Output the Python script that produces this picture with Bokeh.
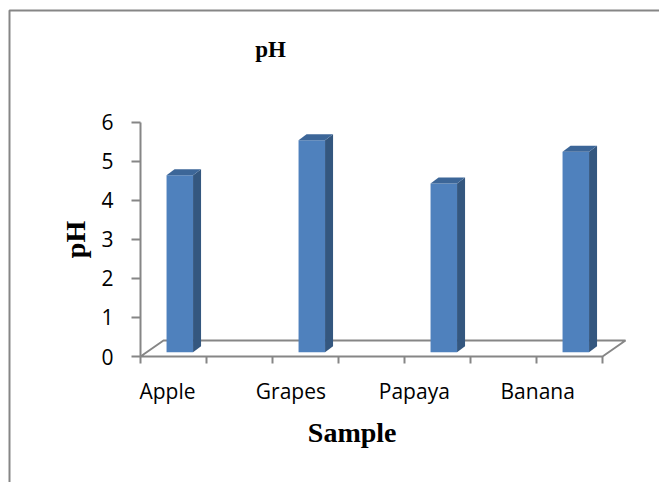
from bokeh.plotting import figure
from bokeh.models import ColumnDataSource, Range1d, FixedTicker
from bokeh.core.properties import value
from bokeh.embed import file_html
from bokeh.resources import INLINE

# ---- data ----
categories = ["Apple", "Grapes", "Papaya", "Banana"]
ph_values = [4.53, 5.43, 4.32, 5.13]
y_ticks = [0, 1, 2, 3, 4, 5, 6]
chart_title = "pH"
x_title = "Sample"
y_title = "pH"

# ---- pseudo-3D geometry (in data units) ----
PX_X = 132.0          # pixels per category step
PX_Y = 39.05          # pixels per pH unit
HALF_W = 13.25 / PX_X        # half width of a column's front face
SIDE_DX = 8 / PX_X           # column depth, horizontal
SIDE_DY = 6 / PX_Y           # column depth, vertical
BASE = 4.3 / PX_Y            # columns stand mid-way back on the floor
FLOOR_X0 = -39.3 / PX_X      # front-left corner of floor (value axis position)
FLOOR_X1 = FLOOR_X0 + 3.5    # front-right corner of floor
FLOOR_DX = 23 / PX_X
FLOOR_DY = 16 / PX_Y
TICK_LEN = 7 / PX_Y

AXIS_GRAY = "#868686"
FRONT = "#4F81BD"
SIDE = "#34577F"
TOP = "#3C6698"

X0 = -179.3 / PX_X
Y0 = -126 / PX_Y
p = figure(width=659, height=482, output_backend="svg", toolbar_location=None,
           title=None, x_axis_location=None,
           x_range=Range1d(X0, X0 + 659 / PX_X),
           y_range=Range1d(Y0, Y0 + 482 / PX_Y),
           min_border_left=0, min_border_right=0, min_border_top=0, min_border_bottom=0)
p.outline_line_color = None
p.grid.visible = False
p.background_fill_color = "white"
p.border_fill_color = "white"

# ---- value axis, pinned to the front-left corner of the floor ----
ax = p.yaxis[0]
ax.fixed_location = FLOOR_X0
ax.ticker = FixedTicker(ticks=y_ticks)
ax.bounds = (y_ticks[0], y_ticks[-1])
ax.axis_line_color = AXIS_GRAY
ax.axis_line_width = 2
ax.major_tick_line_color = AXIS_GRAY
ax.major_tick_line_width = 2
ax.major_tick_out = 9
ax.major_tick_in = 0
ax.minor_tick_line_color = None
ax.major_label_standoff = 18
ax.major_label_text_font = "Open Sans"
ax.major_label_text_font_size = "21px"
ax.major_label_text_color = "black"
ax.axis_label = y_title
ax.axis_label_text_font = "Liberation Serif"
ax.axis_label_text_font_style = "bold"
ax.axis_label_text_font_size = "28px"
ax.axis_label_text_color = "black"
ax.axis_label_standoff = 7

# ---- chart border (left and top edges) ----
bx = (9 - 179.3) / PX_X
by = 346 / PX_Y
p.line([bx, bx, 9], [-9, by, by], line_color=AXIS_GRAY, line_width=2)

# ---- floor and category axis ----
p.patch([FLOOR_X0, FLOOR_X1, FLOOR_X1 + FLOOR_DX, FLOOR_X0 + FLOOR_DX],
        [0, 0, FLOOR_DY, FLOOR_DY],
        fill_color=None, line_color=AXIS_GRAY, line_width=2)
tick_x = [FLOOR_X0 + 0.5 * k for k in range(8)]
p.segment(x0=tick_x, y0=[0] * len(tick_x), x1=tick_x, y1=[-TICK_LEN] * len(tick_x),
          line_color=AXIS_GRAY, line_width=2)

# ---- columns ----
xs_c = list(range(len(categories)))
front = ColumnDataSource(dict(
    left=[x - HALF_W for x in xs_c], right=[x + HALF_W for x in xs_c],
    bottom=[BASE] * len(xs_c), top=[BASE + v for v in ph_values]))
p.quad(left="left", right="right", bottom="bottom", top="top", source=front,
       fill_color=FRONT, line_color=None)

side_xs, side_ys, top_xs, top_ys = [], [], [], []
for x, v in zip(xs_c, ph_values):
    r, l, t = x + HALF_W, x - HALF_W, BASE + v
    side_xs.append([r, r + SIDE_DX, r + SIDE_DX, r])
    side_ys.append([BASE, BASE + SIDE_DY, t + SIDE_DY, t])
    top_xs.append([l, r, r + SIDE_DX, l + SIDE_DX])
    top_ys.append([t, t, t + SIDE_DY, t + SIDE_DY])
p.patches(side_xs, side_ys, fill_color=SIDE, line_color=None)
p.patches(top_xs, top_ys, fill_color=TOP, line_color=None)

# ---- category labels and titles ----
label_x = [-0.093 + i * (123.4 / PX_X) for i in range(len(categories))]
p.text(x=label_x, y=[-34.3 / PX_Y] * len(categories), text=categories,
       text_font=value("Open Sans"), text_font_size="21px", text_color="black",
       text_align="center", text_baseline="alphabetic")
p.text(x=[(351.7 - 179.3) / PX_X], y=[-75.7 / PX_Y], text=[x_title],
       text_font=value("Liberation Serif"), text_font_style="bold", text_font_size="28px",
       text_color="black", text_align="center", text_baseline="alphabetic")
p.text(x=[(270 - 179.3) / PX_X], y=[307.3 / PX_Y], text=[chart_title],
       text_font=value("Liberation Serif"), text_font_style="bold", text_font_size="23px",
       text_color="black", text_align="center", text_baseline="alphabetic")

open("out.html", "w").write(file_html(p, INLINE))
